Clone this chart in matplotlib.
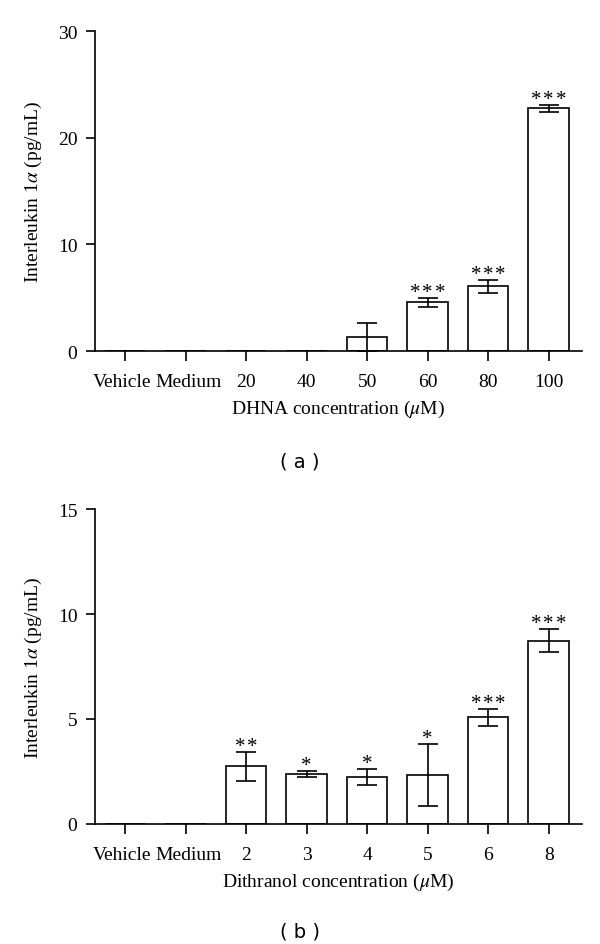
import matplotlib
matplotlib.use("Agg")
import matplotlib.pyplot as plt
import matplotlib.transforms as mtransforms

# Panel (a): DHNA
dhna_labels = ["Vehicle", "Medium", "20", "40", "50", "60", "80", "100"]
dhna_means = [0, 0, 0, 0, 1.28, 4.55, 6.05, 22.75]
dhna_err = [0, 0, 0, 0, 1.3, 0.42, 0.65, 0.35]
dhna_stars = [0, 0, 0, 0, 0, 3, 3, 3]

# Panel (b): Dithranol
dith_labels = ["Vehicle", "Medium", "2", "3", "4", "5", "6", "8"]
dith_means = [0, 0, 2.75, 2.40, 2.26, 2.33, 5.09, 8.73]
dith_err = [0, 0, 0.68, 0.14, 0.38, 1.47, 0.40, 0.55]
dith_stars = [0, 0, 2, 1, 1, 1, 3, 3]

# small sideways nudge (points) for the two word labels
label_nudge = [-2.5, 2.5, 0, 0, 0, 0, 0, 0]

plt.rcParams["font.family"] = ["Liberation Serif", "DejaVu Serif"]
plt.rcParams["mathtext.fontset"] = "stix"

fig = plt.figure(figsize=(6, 9.45), dpi=100)


def draw_panel(rect, labels, means, errs, stars, ymax, ystep, xlabel, tag, tag_y):
    ax = fig.add_axes(rect)
    x = list(range(len(labels)))
    ax.bar(x, means, width=0.67, color="white", edgecolor="black", linewidth=1.2, zorder=2)
    for xi, m, e in zip(x, means, errs):
        if m > 0:
            ax.errorbar(xi, m, yerr=e, fmt="none", ecolor="black", elinewidth=1.2,
                        capsize=7, capthick=1.2, zorder=3, clip_on=False)
    # significance stars, one glyph each so the spacing can be set
    for xi, m, e, n in zip(x, means, errs, stars):
        for k in range(n):
            dx = (k - (n - 1) / 2) * 8.8
            ax.annotate("*", (xi, m + e), xytext=(dx, -3), textcoords="offset points",
                        ha="center", va="bottom", fontsize=15)
    ax.set_xlim(-0.5, 7.55)
    ax.set_ylim(0, ymax)
    ax.set_yticks(range(0, ymax + 1, ystep))
    ax.set_xticks(x)
    ax.tick_params(axis="x", labelbottom=False, length=7, width=1.2, direction="out")
    # x tick labels drawn as text so the word labels can be nudged apart
    base = mtransforms.blended_transform_factory(ax.transData, ax.transAxes)
    for xi, lab, nd in zip(x, labels, label_nudge):
        tr = base + mtransforms.ScaledTranslation(nd / 72, -15.5 / 72, fig.dpi_scale_trans)
        ax.text(xi, 0, lab, transform=tr, ha="center", va="top", fontsize=14)
    ax.tick_params(axis="y", labelsize=14, length=6.5, width=1.2, pad=6, direction="out")
    for side in ["top", "right"]:
        ax.spines[side].set_visible(False)
    for side in ["left", "bottom"]:
        ax.spines[side].set_linewidth(1.2)
    ax.set_xlabel(xlabel, fontsize=14, labelpad=27)
    ax.set_ylabel(r"Interleukin 1$\alpha$ (pg/mL)", fontsize=14, labelpad=10)
    fig.text(0.5, tag_y, tag, ha="center", va="center", fontsize=14, family="DejaVu Sans")
    return ax


draw_panel([0.158, 0.6275, 0.812, 0.3386], dhna_labels, dhna_means, dhna_err, dhna_stars,
           30, 10, r"DHNA concentration ($\mu$M)", "( a )", 1 - 462 / 945)
draw_panel([0.158, 0.127, 0.812, 0.3333], dith_labels, dith_means, dith_err, dith_stars,
           15, 5, r"Dithranol concentration ($\mu$M)", "( b )", 1 - 932 / 945)

fig.savefig("out.png", dpi=100)
